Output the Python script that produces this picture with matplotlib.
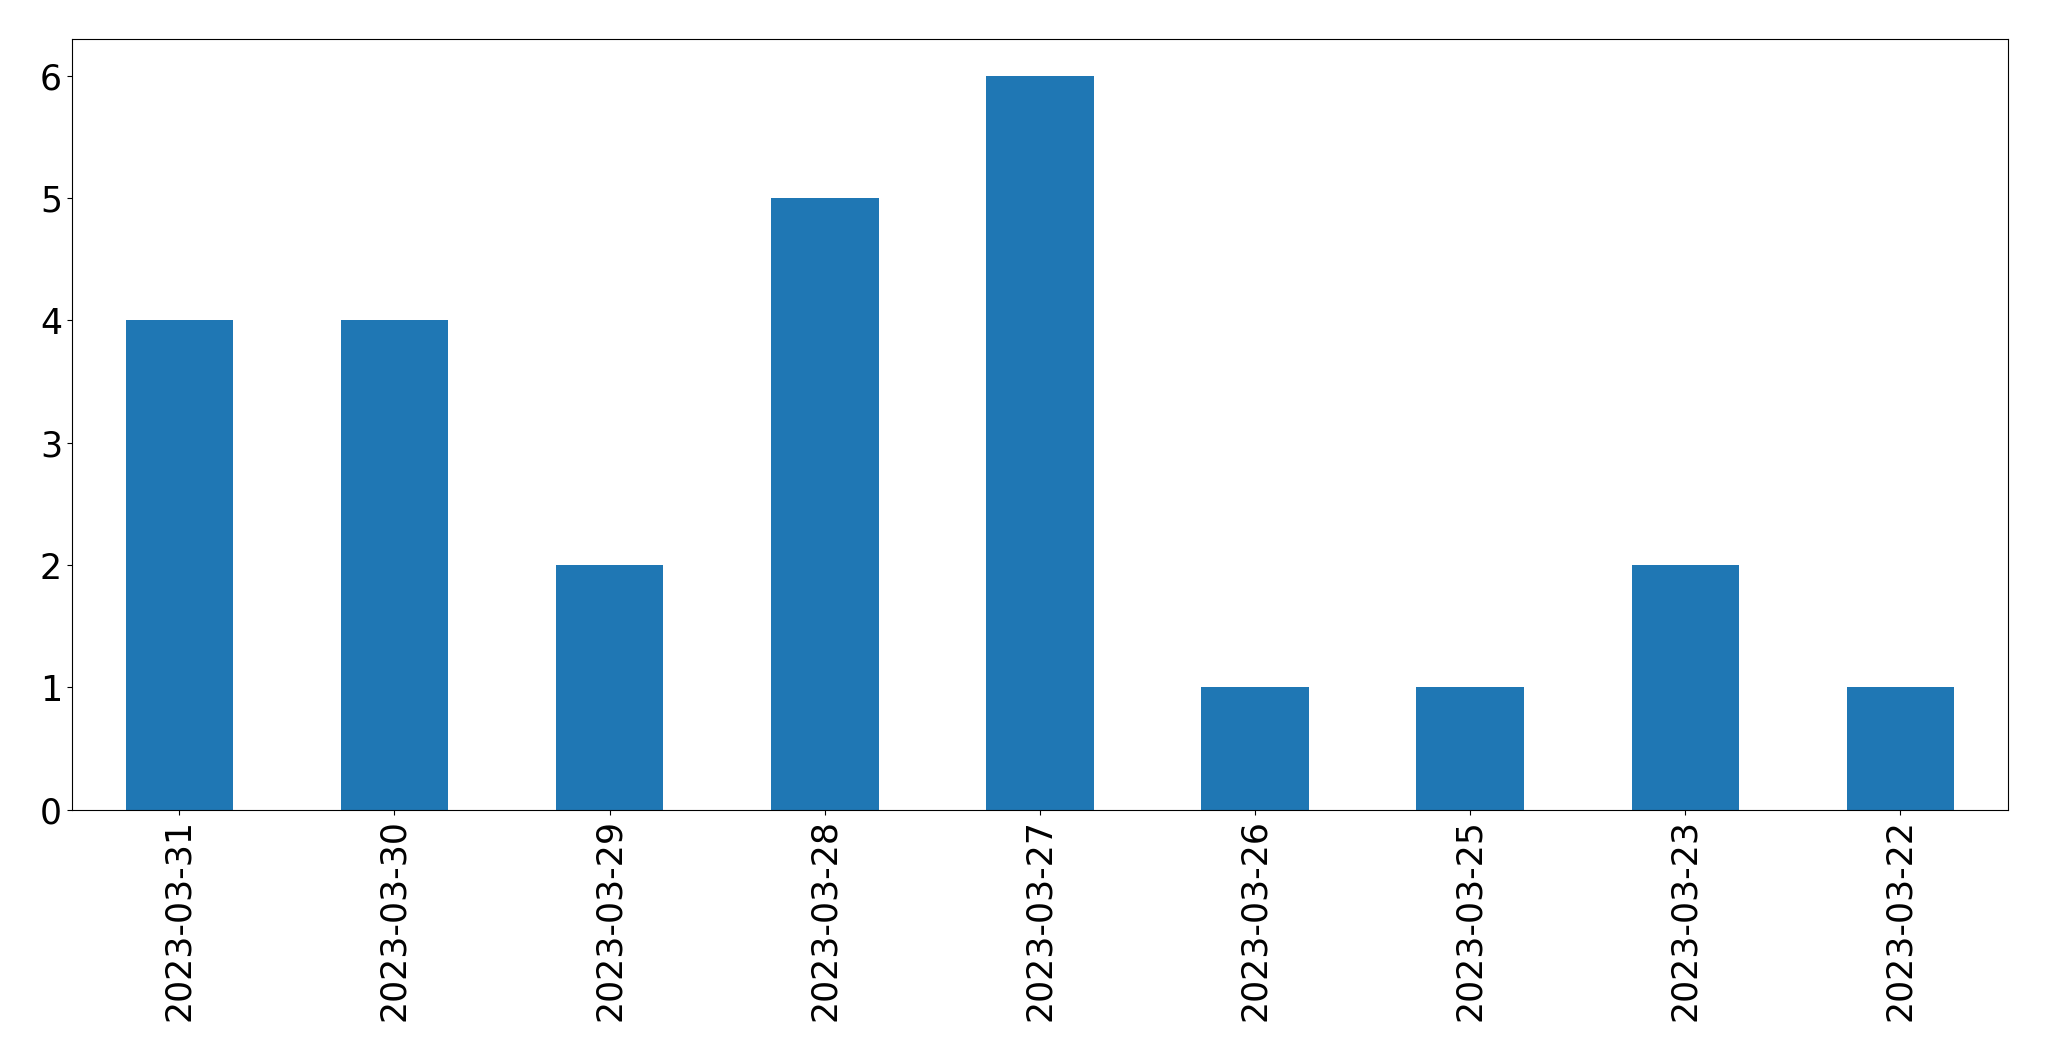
import matplotlib
matplotlib.use("Agg")
import matplotlib.pyplot as plt

dates = ["2023-03-31", "2023-03-30", "2023-03-29", "2023-03-28", "2023-03-27",
         "2023-03-26", "2023-03-25", "2023-03-23", "2023-03-22"]
counts = [4, 4, 2, 5, 6, 1, 1, 2, 1]

fig = plt.figure(figsize=(20.49, 10.61), dpi=100)
ax = fig.add_axes([0.035, 0.237, 0.945, 0.726])
x = range(len(dates))
ax.bar(x, counts, width=0.5, color="#1f77b4")
ax.set_xlim(-0.5, len(dates) - 0.5)
ax.set_ylim(0, 6.3)
ax.set_xticks(list(x))
ax.set_xticklabels(dates, rotation=90)
ax.tick_params(labelsize=25)
fig.savefig("out.png", dpi=100)
